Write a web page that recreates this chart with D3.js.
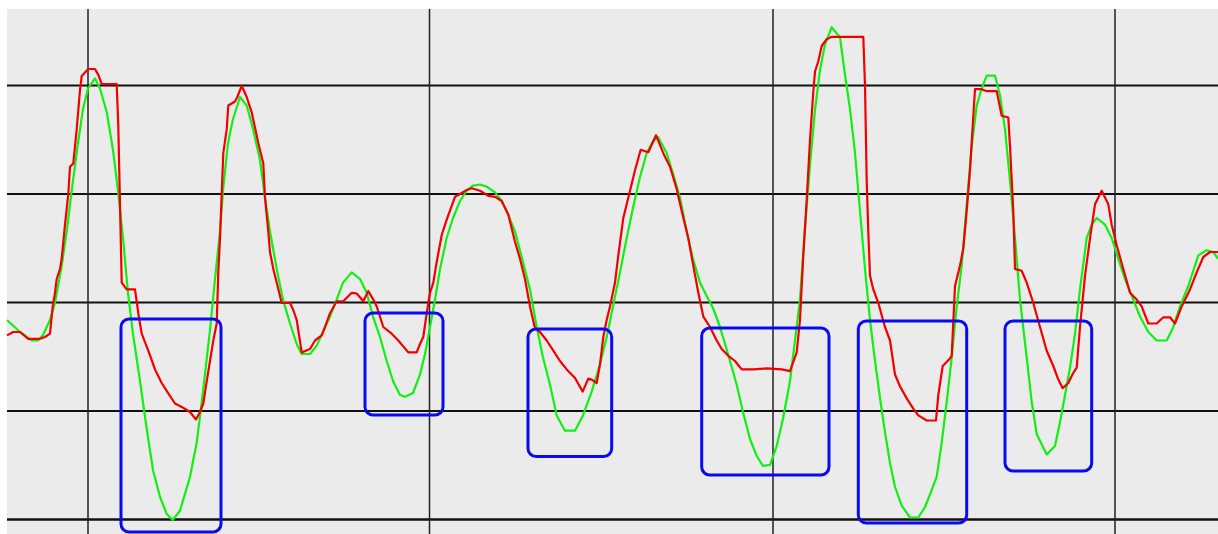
<!DOCTYPE html>
<html>
<head>
<meta charset="utf-8">
<script src="https://cdn.jsdelivr.net/npm/d3@7"></script>
<style>
  html, body { margin: 0; padding: 0; background: #ffffff; }
  svg { display: block; }
</style>
</head>
<body>
<svg id="chart" width="1218" height="534"></svg>
<script>
// ---- data (time t, value v) ----
const greenT = [0,13,24.7,31,36,43,48,54.7,59.7,64.7,71,76,81,88,93,99.7,106,111,116,121,126,133,139.7,146,153,159.7,165.7,173,183,189.7,196,203,208,213,216,221,226,233,239.7,246,253,258,263,269.7,276,283,289.7,294.7,303,309.7,316,323,329.7,336,344.7,353,359.7,366,373,379.7,386,393,398,406,413,418,423,428,433,439.7,446,453,459.7,466,473,479.7,488,494.7,501,508,516,523,529.7,536,543,549.7,558,568,576,584.7,593,599.7,606,613,619.7,626,633,639.7,646,651,659.7,666,673,679.7,686,693,699.7,706,713,721,729.7,736,743,749.7,756,763,769.7,776,783,788,793,798,803,808,813,818,824.7,833,838,843,848,853,858,863,868,873,878,883,888,894.7,903,911.3,918,924.7,929.7,934.7,939.7,944.7,949.7,954.7,959.7,964.7,969.7,974.7,979.7,988,993,998,1003,1008,1013,1019.7,1024.7,1029.7,1039.7,1048,1053,1058,1063,1068,1073,1079.7,1084.7,1089.7,1098,1104.7,1111.3,1118,1126.3,1133,1141.3,1149.7,1159.7,1166.3,1173,1181.3,1191.3,1199.7,1206.3,1211];
const greenV = [214,202,193.5,193.5,199,214,231,268.4,302.5,343.3,391,425,445.5,455.7,445.5,422,384,343.3,296,241,200,153,105,64,37,20,14,23.3,57.3,91.4,142.4,204,255,302.5,343.3,391,415,437,428.5,405,374,336.5,302.5,265,234.4,210.5,190,180,180,188.4,202,217.4,234.4,251.4,261.6,255,241.2,217.4,197,173,153,139,137.3,141,159.5,180,207,234.4,265,296,316,333,343.3,348.4,349.5,347.4,341.6,333,319.5,302.5,272,244.6,207,176.5,149.3,118.6,103.3,103.3,118.6,142.4,169.7,197,227.6,261.6,296,326.3,357,381,392.7,397,381,360.4,336.5,302.5,275.2,251.4,238,226,207,180,149.3,122,95,78,68.2,69.2,88,115.2,153,193.5,234.4,306,369,424,464,489.7,506.8,496.5,459,425,381,323,265,214,173,136,101.6,71,47,28.4,16.5,16.5,27,44,57.3,91.4,132.2,176.5,227.6,268.4,329.7,387.6,428.5,445.5,458.4,458.4,438.7,404.6,353.5,296,234.4,176.5,132.2,100,79.5,88,112,139,166.3,200.3,244.6,296,309.3,316,309.3,296,275.2,255,234.4,217.4,202,193.5,193.5,207,227.6,248,278.6,283.7,282,275.2];

const redT = [0,6.3,13,21.3,33,38,43,45.7,48,49.7,53,54.7,58,61.3,63,66.3,69.7,73,74.7,81.3,88,91.3,94.7,109.7,111.3,113,114.7,119.7,128,131.3,134.7,141.3,148,154.7,161.3,168,174.7,183,189,193,196.3,199.7,203,206.3,209.7,211.3,213,214.7,216.3,219.7,221.3,228,230.3,234.7,239.7,244.7,251.3,256.3,258,261.3,263,266.3,269.7,274.7,283,286.3,289.7,294.7,303,308,314.7,318,323,329.7,336.3,344.7,349.7,356.3,361.3,366.3,369.7,376.3,384.7,391.3,401.3,409.7,413,416.3,419.7,423,426.3,429.7,434.7,439.7,448,453,459.7,464.7,473,481.3,488,494.7,501.3,508,513,518,523,528,533,539.7,546.3,553,559.7,568,575.7,581.3,584.7,589.7,593,596.3,599.7,603,608,611.3,616.3,623,628,633.7,641.3,649,656.3,663,669.7,674.7,681.3,686.3,691.3,696.3,703,709.7,714.7,721.3,728,734.7,746.3,759.7,774.7,783,789.7,793,796.3,799.7,803,806.3,808,811.3,814.7,819.7,824.7,856.3,858,859.7,861.3,863,866.3,871.3,878,883,888,893,899.7,906.3,911.3,919.7,929,931.3,935.7,942.3,944.7,948,953,956.3,959.7,963,965.7,968,974.7,979.7,989.7,994.7,1001.3,1003,1006.3,1008,1014.7,1019.7,1026.3,1033,1039.7,1046.3,1051.3,1055.7,1061.3,1066.3,1069.7,1073,1078,1083,1088,1094.7,1101.3,1104.7,1109.7,1116.3,1123,1129.7,1134.7,1141.3,1149.7,1156.3,1163,1168,1174.7,1183,1189.7,1196.3,1203,1211];
const redV = [198.6,202,202,195.2,195.2,197,200.3,227.6,241.2,255,265,275.2,309.3,340,367.2,370.6,404.6,443.8,458,465,465,459.1,450,450,408,329.7,251.4,244.6,244.6,220.8,200.3,183.3,164.6,151,140.7,130.5,127.1,122,114.5,122,130.5,152.7,173,193.5,210.5,261.6,295.7,340,380.8,404.6,428.5,432.5,437,448.2,437,421.6,391,370.6,336.5,302.5,282,265,251.4,231,231,224,214,181.6,185,193.5,198.6,207,220.8,232.7,232.7,241.2,240.5,232.7,242.9,234.4,227.6,207,200.3,193.5,181.6,181.6,190,197,220.8,241.2,251.4,272,299,314.4,337.2,340,344,345.7,343.3,338.2,337.2,333,319.5,292.3,275.2,254.8,227.6,205.4,202,193.5,183.3,173,164.6,156,142.4,155.4,154.4,151,169.7,197,214,227.6,251.4,278.6,316,343.3,363.8,384.2,381.8,398.8,380.8,367.2,345,323,295.7,268.4,241.2,217.4,207,193.5,185,178.2,173,164.6,164.6,165.6,164.6,162.9,181.6,214,279,334,394,442,462.5,472.7,488,494.8,497.2,497.2,448.9,353.5,302.5,258.2,244.6,231,207,193.5,159.5,147.6,135.6,125.4,118.6,113.5,113.5,139,168,174.8,178.2,248,268.4,285.4,323,363.8,408,444.8,444.8,442.8,442.8,418.2,416.5,387.6,323,265,263.3,251.4,231,207,183.3,168,154.4,145.8,151,161.2,166.3,207,258.2,295.7,329.7,343.3,329.7,309.3,288.8,265,241.2,234.4,227.6,210.5,210.5,216.7,216.7,210.5,227.6,244.6,261.6,277,282,282];

// grid tick values
const yTicks = [448.5, 340, 231.5, 123, 14.5];
const xTicks = [81, 422.5, 766, 1108];

// highlighted dips: [t0, t1, vTop, vBottom]
const boxT0 = [114, 358, 521, 694.7, 851.3, 998];
const boxT1 = [214, 436, 604.7, 822, 959.7, 1084.7];
const boxVTop = [215, 221, 205, 206, 213, 213];
const boxVBot = [2, 119, 77.5, 59, 11, 63];

(function () {
  const svg = d3.select("#chart");
  const mL = 7, mT = 9, mR = 1218, mB = 534;
  const x = d3.scaleLinear().domain([0, 1211]).range([mL, mR]);
  const y = d3.scaleLinear().domain([0, 525]).range([mB, mT]);

  svg.append("rect")
    .attr("x", mL).attr("y", mT)
    .attr("width", mR - mL).attr("height", mB - mT)
    .attr("fill", "#ebebeb");

  const grid = svg.append("g");
  grid.selectAll("line.h").data(yTicks).join("line")
    .attr("class", "h")
    .attr("x1", mL).attr("x2", mR)
    .attr("y1", d => y(d)).attr("y2", d => y(d))
    .attr("stroke", "#111")
    .attr("stroke-width", (d, i) => i === yTicks.length - 1 ? 2.5 : 2);
  grid.selectAll("line.v").data(xTicks).join("line")
    .attr("class", "v")
    .attr("x1", d => x(d)).attr("x2", d => x(d))
    .attr("y1", mT).attr("y2", mB)
    .attr("stroke", "#222")
    .attr("stroke-width", 1.5);

  const line = d3.line().x(d => x(d[0])).y(d => y(d[1]));
  const green = greenT.map((t, i) => [t, greenV[i]]);
  const red = redT.map((t, i) => [t, redV[i]]);

  svg.append("path").datum(green)
    .attr("d", line).attr("fill", "none")
    .attr("stroke", "#11f011").attr("stroke-width", 2.2)
    .attr("stroke-linejoin", "round");
  svg.append("path").datum(red)
    .attr("d", line).attr("fill", "none")
    .attr("stroke", "#f20000").attr("stroke-width", 2.2)
    .attr("stroke-linejoin", "round");

  const boxes = boxT0.map((t0, i) => ({t0, t1: boxT1[i], vt: boxVTop[i], vb: boxVBot[i]}));
  svg.append("g").selectAll("rect").data(boxes).join("rect")
    .attr("x", d => x(d.t0)).attr("y", d => y(d.vt))
    .attr("width", d => x(d.t1) - x(d.t0))
    .attr("height", d => y(d.vb) - y(d.vt))
    .attr("rx", 8).attr("ry", 8)
    .attr("fill", "none")
    .attr("stroke", "#0a0af0").attr("stroke-width", 3);
})();
</script>
</body>
</html>
